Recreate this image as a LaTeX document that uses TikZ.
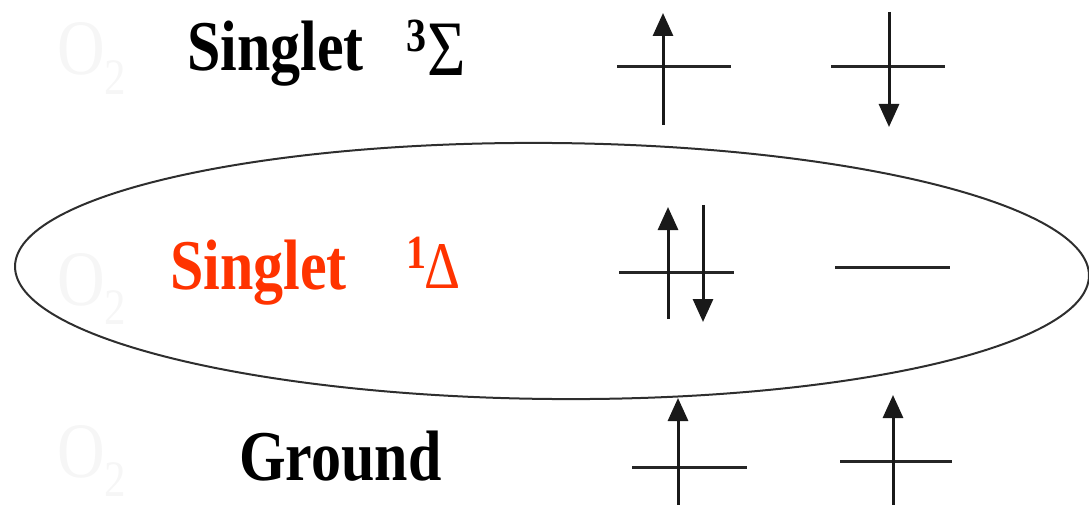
\documentclass[tikz,border=0pt]{standalone}
\usepackage{fontspec}
\setmainfont{Liberation Serif}
\usetikzlibrary{arrows.meta,shapes.geometric}
\definecolor{orred}{HTML}{FF3300}
\definecolor{faint}{HTML}{F6F6F6}
\definecolor{ellgray}{HTML}{2E2E2E}
\newcommand{\vs}[1]{\scalebox{1}[1.19]{#1}}
\tikzset{
  lbl/.style={inner sep=0pt, anchor=base west, font=\fontsize{60}{72}\selectfont\bfseries},
  supnum/.style={inner sep=0pt, anchor=base west, font=\fontsize{40}{48}\selectfont\bfseries},
  greek/.style={inner sep=0pt, anchor=base west},
  otwo/.style={inner sep=0pt, anchor=base west, text=faint, font=\fontsize{66}{78}\selectfont},
  level/.style={line width=3pt, black!85},
  spin/.style={line width=3pt, black!90, -{Triangle[width=20pt,length=23pt]}}
}
\begin{document}
\begin{tikzpicture}[x=1pt,y=-1pt]
\useasboundingbox (0,0) rectangle (1089,505);
% faint O2 labels
\node[otwo] (o2a) at (57,75) {\vs{O\raisebox{-16pt}{\fontsize{43}{50}\selectfont 2}}};
\node[otwo] (o2b) at (57,305) {\vs{O\raisebox{-16pt}{\fontsize{43}{50}\selectfont 2}}};
\node[otwo] (o2c) at (57,477) {\vs{O\raisebox{-16pt}{\fontsize{43}{50}\selectfont 2}}};
% ellipse
\node[draw=ellgray, line width=2pt, ellipse, minimum width=1074pt, minimum height=256pt, inner sep=0pt, rotate=-0.5] (ell) at (552,271) {};
% labels
\node[lbl] (s3) at (187,71) {\vs{Singlet}};
\node[supnum] (n3) at (406,52) {\vs{3}};
\node[greek, font=\fontsize{66}{78}\selectfont] (sig) at (427,76) {\vs{Σ}};
\node[lbl, text=orred] (s1) at (170,289) {\vs{Singlet}};
\node[supnum, text=orred] (n1) at (406,268) {\vs{1}};
\node[greek, text=orred, font=\fontsize{56}{66}\selectfont] (del) at (424,288) {\vs{Δ}};
\node[lbl] (gr) at (239,480) {\vs{Ground}};
% top row
\coordinate (t1l) at (617,67); \coordinate (t1r) at (731,67);
\coordinate (t1b) at (663,125); \coordinate (t1t) at (663,13);
\coordinate (t2l) at (831,67); \coordinate (t2r) at (945,67);
\coordinate (t2t) at (889,12); \coordinate (t2b) at (889,127);
\draw[level] (t1l) -- (t1r);
\draw[spin] (t1b) -- (t1t);
\draw[level] (t2l) -- (t2r);
\draw[spin] (t2t) -- (t2b);
% middle row
\coordinate (m1l) at (619,272); \coordinate (m1r) at (734,272);
\coordinate (m1ub) at (668,319); \coordinate (m1ut) at (668,207);
\coordinate (m1dt) at (703,205); \coordinate (m1db) at (703,322);
\coordinate (m2l) at (835,267); \coordinate (m2r) at (950,267);
\draw[level] (m1l) -- (m1r);
\draw[spin] (m1ub) -- (m1ut);
\draw[spin] (m1dt) -- (m1db);
\draw[level] (m2l) -- (m2r);
% bottom row
\coordinate (b1l) at (632,467); \coordinate (b1r) at (747,467);
\coordinate (b1b) at (678,506); \coordinate (b1t) at (678,398);
\coordinate (b2l) at (840,461); \coordinate (b2r) at (952,461);
\coordinate (b2b) at (893,506); \coordinate (b2t) at (893,395);
\draw[level] (b1l) -- (b1r);
\draw[spin] (b1b) -- (b1t);
\draw[level] (b2l) -- (b2r);
\draw[spin] (b2b) -- (b2t);
\end{tikzpicture}
\end{document}
